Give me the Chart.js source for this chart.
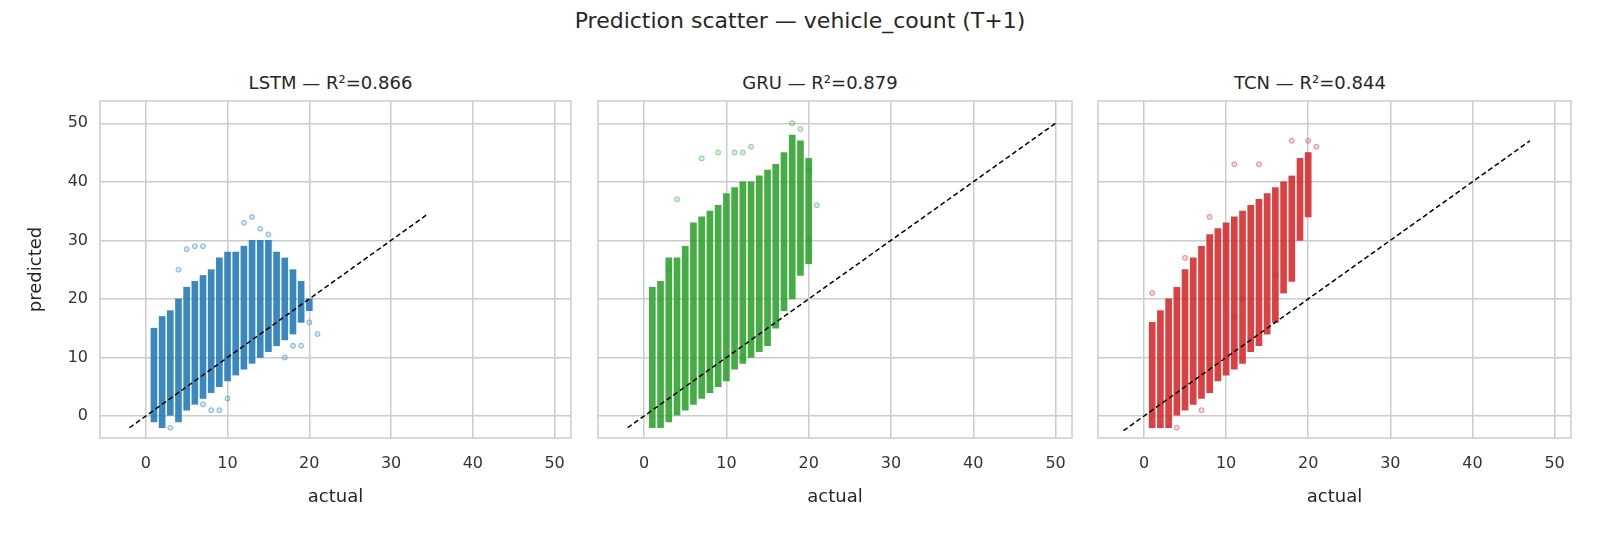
<!DOCTYPE html>
<html><head><meta charset="utf-8">
<script src="https://cdn.jsdelivr.net/npm/chart.js@4"></script>
<style>
body{margin:0;width:1600px;height:533px;background:#fff;position:relative;font-family:"DejaVu Sans",sans-serif;overflow:hidden}
canvas{position:absolute}
.t{position:absolute;text-align:center;color:#262626}
</style></head><body>
<div class="t" style="left:0;width:1600px;top:8px;font-size:22px">Prediction scatter — vehicle_count (T+1)</div>
<div class="t" style="left:98px;width:465px;top:72px;font-size:18px">LSTM — R²=0.866</div>
<div class="t" style="left:587px;width:466px;top:72px;font-size:18px">GRU — R²=0.879</div>
<div class="t" style="left:1077px;width:466px;top:72px;font-size:18px">TCN — R²=0.844</div>
<canvas id="c0" style="left:0;top:60px"></canvas>
<canvas id="c1" style="left:570px;top:60px"></canvas>
<canvas id="c2" style="left:1060px;top:60px"></canvas>
<script>
const actual=[1,2,3,4,5,6,7,8,9,10,11,12,13,14,15,16,17,18,19,20];
const lstmLow =[-1,-2,0,-1,1,2,3,4,5,6,7,8,9,10,11,12,13,14,16,18];
const lstmHigh=[15,17,18,20,22,23,24,25,27,28,28,29,30,30,30,28,27,25,23,20];
const lstmOut=[[5,28.5],[4,25],[6,29],[7,29],[13,34],[12,33],[14,32],[15,31],[20,16],[21,14],[19,12],[18,12],[7,2],[8,1],[10,3],[9,1],[3,-2],[17,10]];
const gruLow =[-2,-2,-1,0,1,2,3,4,5,6,8,9,10,11,12,15,18,20,24,26];
const gruHigh=[22,23,27,27,29,33,34,35,36,38,39,40,40,41,42,43,45,48,47,44];
const gruOut=[[7,44],[9,45],[11,45],[12,45],[18,50],[13,46],[4,37],[20,30],[21,36],[20,42],[19,49],[3,25],[8,7],[12,10]];
const tcnLow =[-2,-2,-2,0,1,2,3,4,6,7,8,9,11,12,14,16,21,23,30,34];
const tcnHigh=[16,18,20,22,25,27,29,31,32,33,34,35,36,37,38,39,40,41,44,45];
const tcnOut=[[11,43],[14,43],[18,47],[20,47],[21,46],[5,27],[8,34],[11,17],[12,20],[1,21],[4,-2],[7,1],[16,24]];
const diag=[[-2,34.5],[-2,50],[-2.5,47]];
const xTicks=[0,10,20,30,40,50], yTicks=[0,10,20,30,40,50];

const border={id:'border',afterDraw(c){const a=c.chartArea,x=c.ctx;x.save();x.strokeStyle='#cccccc';x.lineWidth=1.5;x.strokeRect(a.left,a.top,a.right-a.left,a.bottom-a.top);x.restore();}};

function make(id,w,yw,padL,low,high,out,dg,col,showY){
  const cv=document.getElementById(id);
  cv.width=w;cv.height=473;cv.style.width=w+'px';cv.style.height='473px';
  const bars=actual.map((x,i)=>({x:x,y:[low[i],high[i]]}));
  new Chart(cv,{
    data:{datasets:[
      {type:'bar',data:bars,backgroundColor:col+'e0',barThickness:6,borderWidth:0,order:3},
      {type:'scatter',data:out.map(p=>({x:p[0],y:p[1]})),pointRadius:2.5,backgroundColor:col+'33',borderColor:col+'77',borderWidth:1,order:2},
      {type:'line',data:[{x:dg[0],y:dg[0]},{x:dg[1],y:dg[1]}],borderColor:'#000',borderWidth:1.5,borderDash:[5,3],pointRadius:0,order:1}
    ]},
    options:{responsive:false,animation:false,devicePixelRatio:1,
      layout:{padding:{top:41,right:7,left:padL,bottom:25}},
      plugins:{legend:{display:false},tooltip:{enabled:false}},
      scales:{
        x:{type:'linear',min:-5.6,max:52,offset:false,
          afterBuildTicks(s){s.ticks=xTicks.map(v=>({value:v}));},
          afterFit(s){s.height=70;},
          grid:{color:'#cccccc',lineWidth:1.5,drawTicks:false,offset:false},border:{display:false},
          ticks:{color:'#333',font:{size:16,family:'DejaVu Sans'},padding:16,maxRotation:0},
          title:{display:true,text:'actual',color:'#262626',font:{size:18,family:'DejaVu Sans'},padding:{top:4,bottom:0}}},
        y:{type:'linear',min:-3.75,max:53.8,
          afterBuildTicks(s){s.ticks=yTicks.map(v=>({value:v}));},
          afterFit(s){s.width=yw;},
          grid:{color:'#cccccc',lineWidth:1.5,drawTicks:false,offset:false},border:{display:false},
          ticks:{display:showY,color:'#333',font:{size:16,family:'DejaVu Sans'},padding:12},
          title:{display:showY,text:'predicted',color:'#262626',font:{size:18,family:'DejaVu Sans'}}}
      }},
    plugins:[border]});
}
make('c0',581,78,22,lstmLow,lstmHigh,lstmOut,diag[0],'#1f77b4',true);
make('c1',512,17,11,gruLow,gruHigh,gruOut,diag[1],'#2ca02c',false);
make('c2',521,17,21,tcnLow,tcnHigh,tcnOut,diag[2],'#d62728',false);
</script></body></html>
